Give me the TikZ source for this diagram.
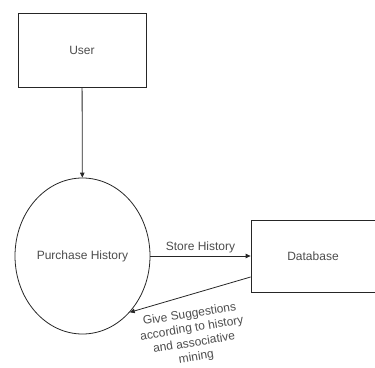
\documentclass[tikz,border=0pt]{standalone}
\usepackage{fontspec}
\setmainfont{Liberation Sans}
\usetikzlibrary{shapes.geometric,arrows.meta}

\tikzset{
	entity/.style={draw=black!85, line width=0.8pt, rectangle, minimum width=128pt, minimum height=74pt, inner sep=0pt},
	process/.style={draw=black!85, line width=0.8pt, ellipse, minimum width=135pt, minimum height=156pt, inner sep=0pt},
	flow/.style={draw=black!85, line width=0.8pt, -{Triangle[length=5pt,width=4.5pt]}},
	lbl/.style={font=\fontsize{12}{14.5}\selectfont, text=black!70}
}

\begin{document}
\begin{tikzpicture}[x=1pt,y=-1pt]
		\useasboundingbox (0,0) rectangle (375,367);
		\clip (0,0) rectangle (375,367);

		\node[entity, lbl] (user) at (82,50) {User};
		\node[process, lbl] (hist) at (82.5,256) {Purchase History};
		\node[entity, lbl, minimum width=140pt, minimum height=72pt] (db) at (321,256) {\hspace*{-16pt}Database};

		\draw[flow] (user) -- (hist);
		\draw[flow] (hist.east) -- node[lbl, above, yshift=-1pt] (store) {Store History} (hist.east -| db.west);
		\draw[flow] ([yshift=-21pt]db.west) -- (hist.-50);

		\node[lbl, align=center, rotate=9] (sugg) at (193,336) {Give Suggestions\\according to history\\and associative\\mining};
	\end{tikzpicture}
\end{document}
